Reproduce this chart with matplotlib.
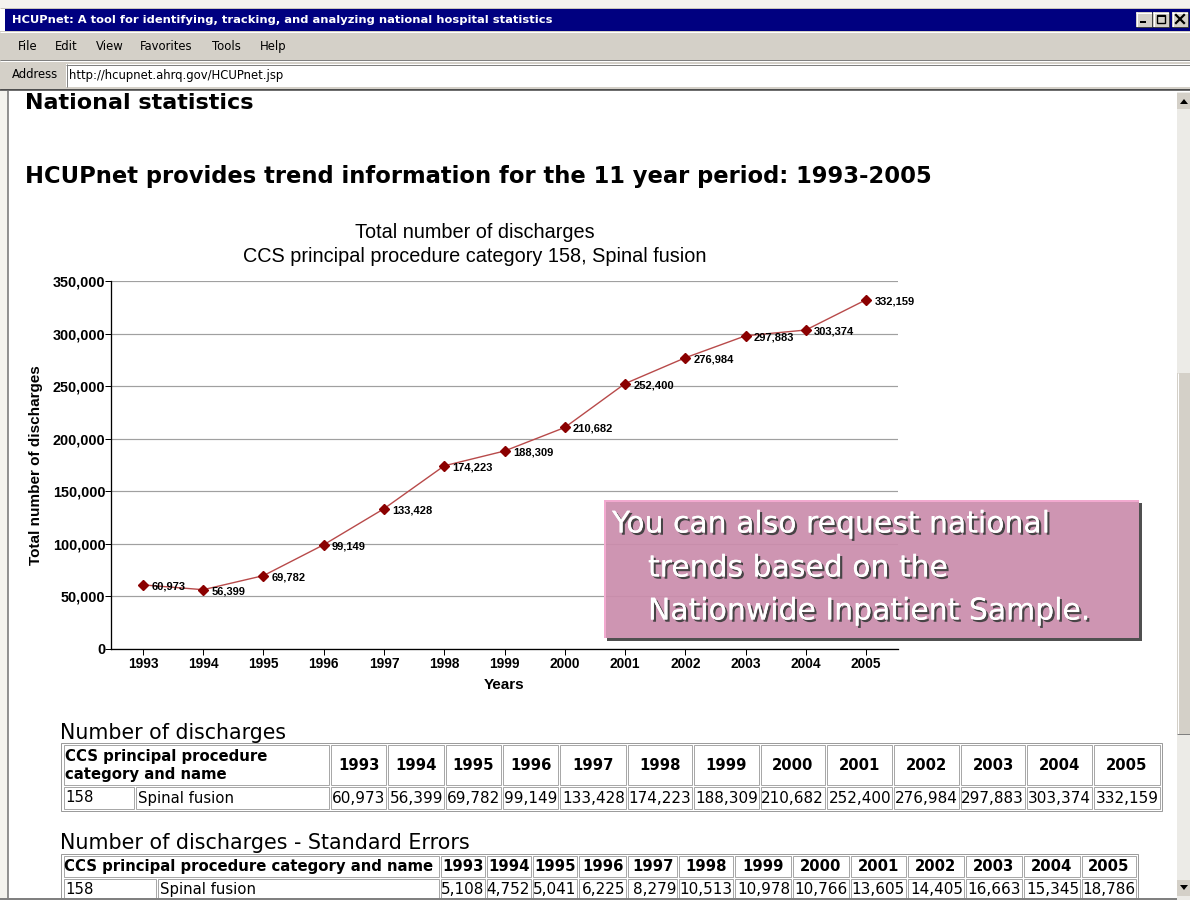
import matplotlib
matplotlib.use("Agg")
import matplotlib.pyplot as plt
from matplotlib.patches import Rectangle, Polygon
import matplotlib.patheffects as pe
from matplotlib.ticker import FuncFormatter

# ---------------- data ----------------
years = [1993, 1994, 1995, 1996, 1997, 1998, 1999, 2000, 2001, 2002, 2003, 2004, 2005]
discharges = [60973, 56399, 69782, 99149, 133428, 174223, 188309, 210682,
              252400, 276984, 297883, 303374, 332159]
std_errors = [5108, 4752, 5041, 6225, 8279, 10513, 10978, 10766,
              13605, 14405, 16663, 15345, 18786]
y_ticks = [0, 50000, 100000, 150000, 200000, 250000, 300000, 350000]
ccs_code = "158"
ccs_name = "Spinal fusion"

window_title = "HCUPnet: A tool for identifying, tracking, and analyzing national hospital statistics"
menu_items = ["File", "Edit", "View", "Favorites", "Tools", "Help"]
url = "http://hcupnet.ahrq.gov/HCUPnet.jsp"
heading1 = "National statistics"
heading2 = "HCUPnet provides trend information for the 11 year period: 1993-2005"
chart_title = ["Total number of discharges", "CCS principal procedure category 158, Spinal fusion"]
y_label = "Total number of discharges"
x_label = "Years"
callout_lines = ["You can also request national", "trends based on the", "Nationwide Inpatient Sample."]
table1_caption = "Number of discharges"
table2_caption = "Number of discharges - Standard Errors"
table_header = "CCS principal procedure category and name"

# ---------------- layout (pixels) ----------------
W, H = 1190, 900
fig = plt.figure(figsize=(W / 100, H / 100), dpi=100)
fig.patch.set_facecolor("white")

bg = fig.add_axes([0, 0, 1, 1], zorder=0)
bg.set_xlim(0, W)
bg.set_ylim(H, 0)
bg.axis("off")

PX = 0.72  # one pixel in points


def rect(ax, x0, y0, x1, y1, fc, ec="none", lw=0.0, z=1, alpha=1.0):
    ax.add_patch(Rectangle((x0, y0), x1 - x0, y1 - y0, facecolor=fc, edgecolor=ec,
                           linewidth=lw, zorder=z, alpha=alpha))


def hline(ax, x0, x1, y, color, lw=1, z=2):
    ax.plot([x0, x1], [y, y], color=color, lw=lw * PX, zorder=z, solid_capstyle="butt")


def vline(ax, x, y0, y1, color, lw=1, z=2):
    ax.plot([x, x], [y0, y1], color=color, lw=lw * PX, zorder=z, solid_capstyle="butt")


GRAY = "#D4D0C8"
UI_FONT = ["DejaVu Sans"]
UI_SIZE = 8.4

# window top
rect(bg, 0, 0, W, 8, "#F4F3EE")
hline(bg, 0, W, 7.5, "#C8C4BC")
# title bar
rect(bg, 5, 8, W, 31, "#000080")
bg.text(12, 20, window_title, color="white", fontsize=8.25, fontweight="bold",
        family=UI_FONT, va="center", ha="left", zorder=3)
# title buttons
for bx, kind in [(1136, "min"), (1153, "max"), (1172, "close")]:
    rect(bg, bx, 12, bx + 16, 27, GRAY, z=3)
    hline(bg, bx, bx + 16, 12.5, "white", z=4)
    vline(bg, bx + 0.5, 12, 27, "white", z=4)
    hline(bg, bx, bx + 16, 26.5, "#404040", z=4)
    vline(bg, bx + 15.5, 12, 27, "#404040", z=4)
    if kind == "min":
        hline(bg, bx + 4, bx + 10, 22, "black", lw=2, z=5)
    elif kind == "max":
        rect(bg, bx + 4, 15, bx + 12, 23, "none", ec="black", lw=1.0, z=5)
        hline(bg, bx + 4, bx + 12, 15.5, "black", lw=2, z=5)
    else:
        bg.plot([bx + 4, bx + 12], [15, 23], color="black", lw=1.6, zorder=5)
        bg.plot([bx + 4, bx + 12], [23, 15], color="black", lw=1.6, zorder=5)

# menu bar
rect(bg, 0, 31, W, 61, GRAY)
hline(bg, 0, W, 32, "white")
hline(bg, 0, W, 59.5, "#808080")
hline(bg, 0, W, 60.5, "white")
menu_x = [18, 55, 96, 140, 212, 260]
for mx, item in zip(menu_x, menu_items):
    bg.text(mx, 46, item, fontsize=UI_SIZE, family=UI_FONT, va="baseline", ha="left",
            zorder=3, transform=bg.transData).set_y(50)

# address bar
rect(bg, 0, 61, W, 90, GRAY)
bg.text(12, 75, "Address", fontsize=UI_SIZE, family=UI_FONT, va="center", ha="left", zorder=3)
rect(bg, 66, 64, W, 87, "white", z=2)
hline(bg, 66, W, 64.5, "#808080", z=3)
vline(bg, 66.5, 64, 87, "#808080", z=3)
bg.text(69, 76, url, fontsize=UI_SIZE, family=UI_FONT, va="center", ha="left", zorder=3)
hline(bg, 0, W, 88.5, "#808080")
hline(bg, 0, W, 90, "#404040", lw=1.5)

# left window edge
rect(bg, 0, 91, 7.5, H, "#F4F3EE")
vline(bg, 8, 91, H, "#707070", lw=1.5)

# scrollbar
rect(bg, 1177, 92, W, H, "#ECEBE7")
rect(bg, 1177, 93, W, 109, GRAY, z=2)
bg.add_patch(Polygon([[1180, 104], [1188, 104], [1184, 99]], closed=True, facecolor="black", zorder=3))
rect(bg, 1177, 373, W, 734, GRAY, z=2)
vline(bg, 1177.5, 373, 734, "white", z=3)
hline(bg, 1177, W, 733.5, "#808080", z=3)
rect(bg, 1177, 880, W, 896, GRAY, z=2)
bg.add_patch(Polygon([[1180, 885], [1188, 885], [1184, 890]], closed=True, facecolor="black", zorder=3))

# headings
bg.text(25, 103, heading1, fontsize=16, fontweight="bold", family=UI_FONT,
        va="center", ha="left", zorder=3)
bg.text(25, 176, heading2, fontsize=16.3, fontweight="bold", family=UI_FONT,
        va="center", ha="left", zorder=3)

# chart titles / labels
CH_FONT = ["Liberation Sans", "DejaVu Sans"]
bg.text(475, 233, chart_title[0], fontsize=14.3, family=CH_FONT, ha="center", va="center", zorder=3)
bg.text(475, 256, chart_title[1], fontsize=14.3, family=CH_FONT, ha="center", va="center", zorder=3)

# ---------------- chart ----------------
L, R, T, B = 111, 898, 281, 649
ax = fig.add_axes([L / W, (H - B) / H, (R - L) / W, (B - T) / H], zorder=2)
ax.set_facecolor("none")
ax.plot(years, discharges, color="#B84A4A", lw=1.0, zorder=3)
ax.plot(years, discharges, linestyle="none", marker="D", markersize=4.6,
        color="#8B0000", zorder=4)
for yr, v in zip(years, discharges):
    ax.annotate(f"{v:,}", xy=(yr, v), xytext=(6, -1), textcoords="offset points",
                ha="left", va="center", fontsize=8.0, fontweight="bold",
                family=["Liberation Sans Narrow", "Liberation Sans"], zorder=5)
ax.set_xlim(1992.47, 2005.53)
ax.set_ylim(0, 350000)
ax.set_yticks(y_ticks)
ax.yaxis.set_major_formatter(FuncFormatter(lambda v, p: f"{int(v):,}"))
ax.set_xticks(years)
ax.set_xticklabels([str(y) for y in years])
ax.grid(axis="y", color="#A0A0A0", lw=1.2 * PX)
ax.set_axisbelow(True)
for s in ["top", "right"]:
    ax.spines[s].set_visible(False)
for s in ["left", "bottom"]:
    ax.spines[s].set_color("black")
    ax.spines[s].set_linewidth(1.3 * PX)
ax.tick_params(axis="both", length=4, width=1.0 * PX, color="black")
ax.tick_params(axis="y", pad=0, labelsize=10.4)
ax.tick_params(axis="x", pad=2, labelsize=9.9)
for lab in ax.get_xticklabels() + ax.get_yticklabels():
    lab.set_fontweight("bold")
    lab.set_family(CH_FONT)
ax.set_ylabel(y_label, fontsize=11, fontweight="bold", family=CH_FONT, labelpad=7)
ax.set_xlabel(x_label, fontsize=11, fontweight="bold", family=CH_FONT, labelpad=5)

# ---------------- callout (top overlay) ----------------
top = fig.add_axes([0, 0, 1, 1], zorder=3)
top.set_xlim(0, W)
top.set_ylim(H, 0)
top.axis("off")
top.patch.set_alpha(0)
bx0, by0, bx1, by1 = 604, 500, 1139, 638
rect(top, bx1, by0 + 3, bx1 + 3, by1 + 3, "#505050", z=1)
rect(top, bx0 + 3, by1, bx1 + 3, by1 + 3, "#505050", z=1)
rect(top, bx0, by0, bx1, by1, "#CB8DAC", z=2, alpha=0.93)
hline(top, bx0, bx1, by0 + 1, "#F2A9CF", lw=2, z=3)
vline(top, bx0 + 1, by0, by1, "#F2A9CF", lw=2, z=3)
shadow = [pe.withSimplePatchShadow(offset=(1.6, -1.6), shadow_rgbFace="#404040", alpha=0.95),
          pe.Normal()]
for (cx, cy), line in zip([(612, 524), (648, 568), (648, 611)], callout_lines):
    top.text(cx, cy, line, fontsize=21.5, color="white", family=["DejaVu Sans"],
             va="center", ha="left", zorder=4, path_effects=shadow)

# ---------------- tables ----------------
TB_FONT = ["DejaVu Sans"]
CELL_EC = "#A8A8A8"
HDR_SIZE = 10.7
VAL_SIZE = 11.0


def cell(x0, y0, x1, y1):
    rect(bg, x0, y0, x1, y1, "white", ec=CELL_EC, lw=1.0 * PX, z=2)


# table 1
bg.text(60, 733, table1_caption, fontsize=14.8, family=TB_FONT, va="center", ha="left", zorder=3)
e1 = [62, 135, 330, 387, 445, 502, 559, 627, 693, 760, 826, 893, 960, 1026, 1093, 1161]
rect(bg, 61, 743, 1162, 811, "white", ec="#9C9C9C", lw=1.0 * PX, z=1)
h0, h1, d0, d1 = 745, 785, 787, 809
cell(e1[0] + 2, h0, e1[2] - 1, h1)
bg.text(e1[0] + 3, 757, "CCS principal procedure", fontsize=HDR_SIZE, fontweight="bold",
        family=TB_FONT, va="center", ha="left", zorder=3)
bg.text(e1[0] + 3, 775, "category and name", fontsize=HDR_SIZE, fontweight="bold",
        family=TB_FONT, va="center", ha="left", zorder=3)
cell(e1[0] + 2, d0, e1[1] - 1, d1)
cell(e1[1] + 1, d0, e1[2] - 1, d1)
bg.text(e1[0] + 3, 798, ccs_code, fontsize=HDR_SIZE, family=TB_FONT, va="center", ha="left", zorder=3)
bg.text(e1[1] + 3, 798, ccs_name, fontsize=HDR_SIZE, family=TB_FONT, va="center", ha="left", zorder=3)
for i, (yr, v) in enumerate(zip(years, discharges)):
    x0, x1 = e1[2 + i] + 1, e1[3 + i] - 1
    cell(x0, h0, x1, h1)
    cell(x0, d0, x1, d1)
    bg.text((x0 + x1) / 2, 766, str(yr), fontsize=HDR_SIZE, fontweight="bold", family=TB_FONT,
            va="center", ha="center", zorder=3)
    bg.text(x1 - 1, 798.5, f"{v:,}", fontsize=VAL_SIZE, family=TB_FONT,
            va="center", ha="right", zorder=3)

# table 2
bg.text(60, 843, table2_caption, fontsize=14.9, family=TB_FONT, va="center", ha="left", zorder=3)
e2 = [62, 157, 440, 486, 532, 578, 627, 678, 734, 792, 850, 907, 965, 1023, 1081, 1137]
rect(bg, 61, 854, 1138, 905, "white", ec="#9C9C9C", lw=1.0 * PX, z=1)
g0, g1, f0, f1 = 856, 877, 879, 900
cell(e2[0] + 2, g0, e2[2] - 1, g1)
bg.text(e2[0] + 2, 866.5, table_header, fontsize=HDR_SIZE, fontweight="bold", family=TB_FONT,
        va="center", ha="left", zorder=3)
cell(e2[0] + 2, f0, e2[1] - 1, f1)
cell(e2[1] + 1, f0, e2[2] - 1, f1)
bg.text(e2[0] + 3, 889.5, ccs_code, fontsize=HDR_SIZE, family=TB_FONT, va="center", ha="left", zorder=3)
bg.text(e2[1] + 3, 889.5, ccs_name, fontsize=HDR_SIZE, family=TB_FONT, va="center", ha="left", zorder=3)
for i, (yr, v) in enumerate(zip(years, std_errors)):
    x0, x1 = e2[2 + i] + 1, e2[3 + i] - 1
    cell(x0, g0, x1, g1)
    cell(x0, f0, x1, f1)
    bg.text((x0 + x1) / 2, 866.5, str(yr), fontsize=HDR_SIZE, fontweight="bold", family=TB_FONT,
            va="center", ha="center", zorder=3)
    bg.text(x1 - 1, 889.5, f"{v:,}", fontsize=VAL_SIZE, family=TB_FONT,
            va="center", ha="right", zorder=3)

# bottom frame line on top of tables
hline(bg, 0, 1177, 898.5, "#808080", lw=2, z=6)

fig.savefig("out.png", dpi=100)
